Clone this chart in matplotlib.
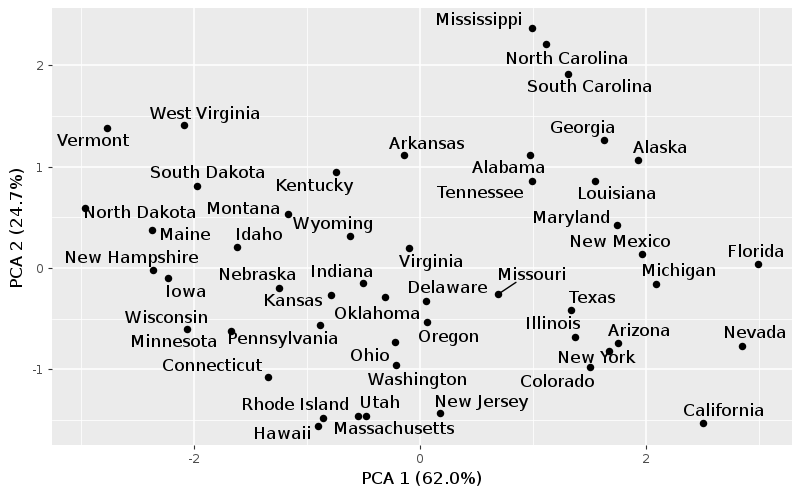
import matplotlib
matplotlib.use('Agg')
from matplotlib import pyplot as plt

plt.rcParams['text.hinting'] = 'native'
plt.rcParams['text.hinting_factor'] = 1

states = ['Mississippi', 'North Carolina', 'South Carolina', 'Vermont', 'West Virginia',
          'Arkansas', 'Georgia', 'Alaska', 'Alabama', 'Tennessee',
          'Louisiana', 'Kentucky', 'South Dakota', 'North Dakota', 'Montana',
          'Wyoming', 'Maine', 'Idaho', 'Maryland', 'New Mexico',
          'Virginia', 'New Hampshire', 'Iowa', 'Nebraska', 'Indiana',
          'Missouri', 'Michigan', 'Florida', 'Kansas', 'Delaware',
          'Oklahoma', 'Texas', 'Wisconsin', 'Oregon', 'Illinois',
          'Minnesota', 'Pennsylvania', 'Ohio', 'Washington', 'Arizona',
          'New York', 'Colorado', 'Nevada', 'Connecticut', 'New Jersey',
          'California', 'Rhode Island', 'Utah', 'Massachusetts', 'Hawaii']
pc1 = [0.99, 1.114, 1.31, -2.77, -2.09,
       -0.14, 1.63, 1.93, 0.977, 0.99,
       1.547, -0.74, -1.97, -2.96, -1.17,
       -0.62, -2.37, -1.62, 1.74, 1.96,
       -0.095, -2.36, -2.23, -1.25, -0.50,
       0.69, 2.09, 2.99, -0.79, 0.05,
       -0.31, 1.34, -2.06, 0.06, 1.37,
       -1.67, -0.88, -0.22, -0.21, 1.75,
       1.67, 1.50, 2.85, -1.34, 0.18,
       2.50, -0.855, -0.48, -0.545, -0.90]
pc2 = [2.37, 2.21, 1.915, 1.385, 1.41,
       1.115, 1.264, 1.066, 1.115, 0.86,
       0.86, 0.95, 0.81, 0.59, 0.53,
       0.316, 0.37, 0.207, 0.424, 0.14,
       0.197, -0.02, -0.10, -0.195, -0.15,
       -0.26, -0.155, 0.04, -0.27, -0.323,
       -0.283, -0.41, -0.605, -0.536, -0.68,
       -0.62, -0.565, -0.73, -0.96, -0.74,
       -0.816, -0.977, -0.767, -1.08, -1.435,
       -1.53, -1.48, -1.458, -1.458, -1.557]

# where each label sits relative to its point, in pixels (repel-style layout)
label_offsets = [(-53, 7), (21, -15), (21, -14), (-14, -14), (21, 11),
                 (22, 11), (-22, 11), (22, 11), (-22, -13), (-52, -13),
                 (22, -14), (-22, -15), (10, 12), (54, -5), (-45, 5),
                 (-17, 11), (33, -5), (22, 12), (-46, 7), (-22, 11),
                 (22, -14), (-22, 12), (18, -14), (-22, 12), (-22, 11),
                 (34, 19), (22, 12), (-3, 11), (-38, -6), (21, 12),
                 (-8, -18), (21, 11), (-21, 11), (22, -15), (-22, 12),
                 (-58, -12), (-38, -14), (-26, -15), (21, -15), (21, 11),
                 (-13, -8), (-33, -16), (12, 12), (-56, 11), (41, 11),
                 (21, 12), (-28, 12), (14, 12), (35, -14), (-36, -9)]

fig = plt.figure(figsize=(8, 4.94), dpi=100)
ax = fig.add_axes([51.7 / 800, 1 - 445.3 / 494, 740 / 800, 437 / 494])
ax.set_facecolor('#EBEBEB')
for side in ax.spines.values():
    side.set_visible(False)

ax.scatter(pc1, pc2, s=29, color='black', linewidths=0, zorder=3)
for name, x, y, off in zip(states, pc1, pc2, label_offsets):
    ax.annotate(name, (x, y), xytext=off, textcoords='offset pixels',
                ha='center', va='center', fontsize=12.2, color='black', zorder=4)

# Missouri is the only label far enough away to get a segment
i = states.index('Missouri')
ax.annotate('', (pc1[i], pc2[i]), xytext=(18, 12), textcoords='offset pixels',
            arrowprops=dict(arrowstyle='-', color='black', lw=1, shrinkA=0, shrinkB=0), zorder=3)

ax.set_xlim(-3.256, 3.287)
ax.set_ylim(-1.75, 2.563)
ax.set_xticks([-2, 0, 2])
ax.set_yticks([-1, 0, 1, 2])
ax.set_xticks([-3, -1, 1, 3], minor=True)
ax.set_yticks([-1.5, -0.5, 0.5, 1.5], minor=True)
ax.grid(True, which='major', color='white', lw=1.1)
ax.grid(True, which='minor', color='white', lw=0.55)
ax.set_axisbelow(True)
ax.tick_params(which='minor', length=0)
ax.tick_params(which='major', length=2.7, width=0.8, color='#333333',
               labelcolor='#4D4D4D', labelsize=8.6, pad=2.5)
ax.set_xticklabels(['-2', '0', '2'])
ax.set_yticklabels(['-1', '0', '1', '2'])
ax.set_xlabel('PCA 1 (62.0%)', fontsize=12.2, labelpad=4)
ax.set_ylabel('PCA 2 (24.7%)', fontsize=12.2, labelpad=4)

fig.savefig('out.png', dpi=100)
